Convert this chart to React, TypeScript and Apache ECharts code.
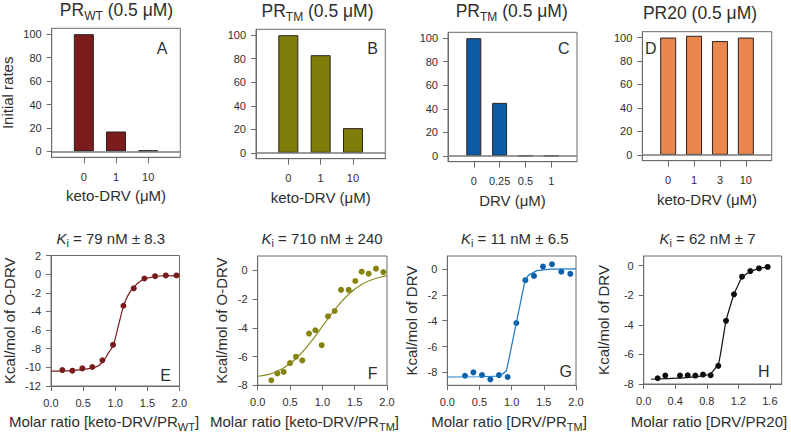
import { useEffect, useRef } from 'react';
import * as echarts from 'echarts';

const FONT = '"Liberation Sans", Arial, Helvetica, sans-serif';
const INK = '#2e2e2e';
const FRAME = '#6b6b6b';

// ---------- top row: initial rates ----------
const concA = ['0', '1', '10'];
const rateA = [100, 17, 1];
const concB = ['0', '1', '10'];
const rateB = [100, 83, 21];
const concC = ['0', '0.25', '0.5', '1'];
const rateC = [100, 45, 0, 0];
const concD = ['0', '1', '3', '10'];
const rateD = [100, 101.5, 97, 100];
const rateTicks = [0, 20, 40, 60, 80, 100];

// ---------- bottom row: ITC ----------
const ratioE = [0.177, 0.333, 0.488, 0.644, 0.8, 0.966, 1.127, 1.288, 1.454, 1.62, 1.787, 1.953];
const heatE = [-10.29, -10.36, -10.11, -9.96, -9.24, -7.58, -3.39, -1.52, -0.47, -0.22, -0.14, -0.14];
const fitXE = [0, 0.3, 0.5, 0.7, 0.8, 0.9, 0.97, 1.05, 1.13, 1.2, 1.29, 1.4, 1.5, 1.7, 2.0];
const fitYE = [-10.4, -10.35, -10.22, -9.95, -9.45, -8.4, -7.6, -5.5, -3.4, -2.25, -1.4, -0.72, -0.42, -0.2, -0.15];

const ratioF = [0.211, 0.304, 0.402, 0.5, 0.593, 0.69, 0.794, 0.892, 0.99, 1.088, 1.19, 1.289, 1.407, 1.51, 1.608, 1.716, 1.83, 1.943];
const heatF = [-7.65, -7.17, -7.07, -6.45, -6.01, -6.27, -4.4, -4.17, -5.21, -3.2, -2.83, -1.36, -1.36, -0.74, -0.09, -0.23, 0.12, -0.12];
const fitXF = [0, 0.2, 0.4, 0.6, 0.8, 1.0, 1.2, 1.4, 1.6, 1.8, 2.0];
const fitYF = [-7.37, -7.2, -6.8, -6.1, -5.1, -3.9, -2.7, -1.7, -1.0, -0.6, -0.37];

const ratioG = [0.275, 0.405, 0.539, 0.669, 0.803, 0.938, 1.073, 1.213, 1.347, 1.487, 1.627, 1.772, 1.912];
const heatG = [-8.26, -8.0, -8.21, -8.54, -8.21, -8.36, -4.18, -0.87, -0.54, 0.18, 0.36, -0.21, -0.38];
const fitXG = [0, 0.5, 0.82, 0.92, 1.21, 1.26, 1.39, 1.6, 2.0];
const fitYG = [-8.36, -8.34, -8.28, -7.87, -0.85, -0.5, -0.13, -0.02, 0];

const ratioH = [0.177, 0.274, 0.46, 0.558, 0.655, 0.752, 0.849, 0.946, 1.044, 1.145, 1.247, 1.352, 1.462, 1.572];
const heatH = [-7.61, -7.43, -7.43, -7.41, -7.43, -7.36, -7.41, -6.77, -3.73, -1.94, -0.75, -0.37, -0.18, -0.09];
const fitXH = [0.093, 0.5, 0.75, 0.85, 0.95, 1.044, 1.145, 1.247, 1.352, 1.462, 1.572];
const fitYH = [-7.68, -7.58, -7.45, -7.3, -6.6, -3.73, -1.94, -0.8, -0.4, -0.2, -0.1];

const ratioTicks = [0, 0.5, 1, 1.5, 2];
const ratioTicksH = [0, 0.4, 0.8, 1.2, 1.6];
const heatTicksE = [-12, -10, -8, -6, -4, -2, 0, 2];
const heatTicks = [-8, -6, -4, -2, 0];

const titleRich = {
  m: { fontSize: 17.5, fontFamily: FONT, fill: INK, lineHeight: 20 },
  s: { fontSize: 12, fontFamily: FONT, fill: INK, lineHeight: 8, padding: [12, 0, 0, 0] },
};
const kiRich = {
  k: { fontSize: 15, fontStyle: 'italic', fontFamily: FONT, fill: INK, lineHeight: 21 },
  s: { fontSize: 11, fontFamily: FONT, fill: INK, lineHeight: 11, padding: [10, 0, 0, 0] },
  m: { fontSize: 15, fontFamily: FONT, fill: INK, lineHeight: 21 },
};
const nameRich = {
  m: { fontSize: 15, fontFamily: FONT, fill: INK, lineHeight: 23 },
  s: { fontSize: 11, fontFamily: FONT, fill: INK, lineHeight: 11, padding: [12, 0, 0, 0] },
};

const topPanels = [
  { cats: concA, vals: rateA, color: '#7b1c1c', box: [51.7, 28.3, 128.6, 129], barW: 20, xName: 'keto-DRV (μM)', yName: 'Initial rates', letter: 'A', lp: [162, 48], title: '{m|PR}{s|WT}{m| (0.5 μM)}', tp: [116.5, 10] },
  { cats: concB, vals: rateB, color: '#7f7d0c', box: [256, 29.3, 129.3, 129.4], barW: 20, xName: 'keto-DRV (μM)', yName: '', letter: 'B', lp: [372.7, 48], title: '{m|PR}{s|TM}{m| (0.5 μM)}', tp: [317.5, 10.5] },
  { cats: concC, vals: rateC, color: '#0d5ba3', box: [448, 32.3, 129, 129.4], barW: 15, xName: 'DRV (μM)', yName: '', letter: 'C', lp: [563.7, 48], title: '{m|PR}{s|TM}{m| (0.5 μM)}', tp: [511.7, 10.5] },
  { cats: concD, vals: rateD, color: '#e9874f', box: [642.3, 31.7, 129.4, 129], barW: 16, xName: 'keto-DRV (μM)', yName: '', letter: 'D', lp: [650.7, 48], title: '{m|PR20 (0.5 μM)}', tp: [700, 12.8] },
];

const bottomPanels = [
  { xs: ratioE, ys: heatE, fx: fitXE, fy: fitYE, dot: '#7a1a1a', line: '#7b1c1c', smooth: 0.35, box: [51, 255.5, 128.5, 130.5], xMax: 2, xTicks: ratioTicks, yMin: -12, yMax: 2, yTicks: heatTicksE, yName: 'Kcal/mol of O-DRV', yGap: 34.5, letter: 'E', lp: [165.7, 375.7], ki: '{k|K}{s|i}{m| = 79 nM ± 8.3}', kp: [110.8, 238], xName: '{m|Molar ratio [keto-DRV/PR}{s|WT}{m|]}', np: [104, 421] },
  { xs: ratioF, ys: heatF, fx: fitXF, fy: fitYF, dot: '#86830b', line: '#8c8a1e', smooth: 0.5, box: [257.7, 256, 129.3, 129.3], xMax: 2, xTicks: ratioTicks, yMin: -8, yMax: 1, yTicks: heatTicks, yName: 'Kcal/mol of O-DRV', yGap: 28.5, letter: 'F', lp: [372.7, 373.3], ki: '{k|K}{s|i}{m| = 710 nM ± 240}', kp: [322, 238], xName: '{m|Molar ratio [keto-DRV/PR}{s|TM}{m|]}', np: [304.5, 421] },
  { xs: ratioG, ys: heatG, fx: fitXG, fy: fitYG, dot: '#0a5fa8', line: '#1a78c8', smooth: false, box: [447.3, 256, 128.7, 129.3], xMax: 2, xTicks: ratioTicks, yMin: -9, yMax: 1, yTicks: heatTicks, yName: 'Kcal/mol of DRV', yGap: 28.5, letter: 'G', lp: [565.7, 371], ki: '{k|K}{s|i}{m| = 11 nM ± 6.5}', kp: [514.7, 238], xName: '{m|Molar ratio [DRV/PR}{s|TM}{m|]}', np: [509, 421] },
  { xs: ratioH, ys: heatH, fx: fitXH, fy: fitYH, dot: '#0d0d0d', line: '#111111', smooth: 0.15, box: [643.7, 256, 138, 128], xMax: 1.75, xTicks: ratioTicksH, yMin: -8, yMax: 0.65, yTicks: heatTicks, yName: 'Kcal/mol of DRV', yGap: 32.5, letter: 'H', lp: [763.7, 371.7], ki: '{k|K}{s|i}{m| = 62 nM ± 7}', kp: [707.5, 238], xName: '{m|Molar ratio [DRV/PR20]}', np: [709, 421] },
];

const labelStyle = { fontSize: 11, color: INK, fontFamily: FONT };
const nameStyle = { fontSize: 15, color: INK, fontFamily: FONT };

function buildOption() {
  const grid: any[] = [];
  const xAxis: any[] = [];
  const yAxis: any[] = [];
  const series: any[] = [];
  const elements: any[] = [];

  const addText = (x: number, y: number, text: string, rich?: any, size = 16) => {
    elements.push({
      type: 'text',
      x,
      y,
      style: { text, rich, align: 'center', verticalAlign: 'middle', fontSize: size, fontFamily: FONT, fill: INK },
    });
  };

  topPanels.forEach((p, i) => {
    const [left, top, width, height] = p.box;
    grid.push({ left, top, width, height, show: true, borderColor: FRAME, borderWidth: 1, backgroundColor: 'transparent', containLabel: false, outerBoundsMode: 'none' });
    const padded = ['', ...p.cats, ' '];
    xAxis.push({
      type: 'category', gridIndex: i, data: padded, boundaryGap: false,
      axisLine: { onZero: false, lineStyle: { color: FRAME } },
      axisTick: { length: 6, interval: (idx: number) => idx > 0 && idx < padded.length - 1, lineStyle: { color: FRAME } },
      axisLabel: { interval: 0, margin: 14, ...labelStyle },
      splitLine: { show: false },
      name: p.xName, nameLocation: 'middle', nameGap: 31, nameTextStyle: nameStyle,
    });
    yAxis.push({
      type: 'value', gridIndex: i, min: -5, max: 105,
      axisLine: { show: true, onZero: false, lineStyle: { color: FRAME } },
      axisTick: { show: true, length: 5, customValues: rateTicks, lineStyle: { color: FRAME } },
      axisLabel: { customValues: rateTicks, margin: 10, ...labelStyle },
      splitLine: { show: false },
      name: p.yName, nameLocation: 'middle', nameGap: 37, nameTextStyle: nameStyle,
    });
    series.push({
      type: 'bar', xAxisIndex: i, yAxisIndex: i,
      data: ['-', ...p.vals, '-'],
      barWidth: p.barW,
      itemStyle: { color: p.color, borderColor: '#2b2222', borderWidth: 1 },
      markLine: {
        silent: true, symbol: ['none', 'none'], label: { show: false },
        lineStyle: { color: '#7a7a7a', width: 1.5, type: 'solid' },
        data: [{ yAxis: 0 }],
      },
    });
    addText(p.tp[0], p.tp[1], p.title, titleRich, 17.5);
    addText(p.lp[0], p.lp[1], p.letter, undefined, 16);
  });

  bottomPanels.forEach((p, j) => {
    const i = j + 4;
    const [left, top, width, height] = p.box;
    grid.push({ left, top, width, height, show: true, borderColor: FRAME, borderWidth: 1, backgroundColor: 'transparent', containLabel: false, outerBoundsMode: 'none' });
    xAxis.push({
      type: 'value', gridIndex: i, min: 0, max: p.xMax,
      axisLine: { show: true, onZero: false, lineStyle: { color: FRAME } },
      axisTick: { show: true, length: 5, customValues: p.xTicks, lineStyle: { color: FRAME } },
      axisLabel: { customValues: p.xTicks, margin: 11, formatter: (v: number) => v.toFixed(1), ...labelStyle },
      splitLine: { show: false },
    });
    yAxis.push({
      type: 'value', gridIndex: i, min: p.yMin, max: p.yMax,
      axisLine: { show: true, onZero: false, lineStyle: { color: FRAME } },
      axisTick: { show: true, length: 5, customValues: p.yTicks, lineStyle: { color: FRAME } },
      axisLabel: { customValues: p.yTicks, margin: 10, ...labelStyle },
      splitLine: { show: false },
      name: p.yName, nameLocation: 'middle', nameGap: p.yGap, nameTextStyle: nameStyle,
    });
    series.push({
      type: 'line', xAxisIndex: i, yAxisIndex: i,
      data: p.fx.map((x, k) => [x, p.fy[k]]),
      showSymbol: false, symbol: 'none',
      smooth: p.smooth,
      lineStyle: { color: p.line, width: 1.2 },
    });
    series.push({
      type: 'scatter', xAxisIndex: i, yAxisIndex: i,
      data: p.xs.map((x, k) => [x, p.ys[k]]),
      symbolSize: 6,
      itemStyle: { color: p.dot, opacity: 1 },
    });
    addText(p.kp[0], p.kp[1], p.ki, kiRich, 15);
    addText(p.lp[0], p.lp[1], p.letter, undefined, 16);
    addText(p.np[0], p.np[1], p.xName, nameRich, 15);
  });

  return {
    animation: false,
    backgroundColor: '#ffffff',
    textStyle: { fontFamily: FONT },
    grid, xAxis, yAxis, series,
    graphic: { elements },
  };
}

export default function App() {
  const ref = useRef<HTMLDivElement>(null);
  useEffect(() => {
    if (!ref.current) return;
    const chart = echarts.init(ref.current, undefined, { renderer: 'svg' });
    chart.setOption(buildOption() as any);
    return () => chart.dispose();
  }, []);
  return (
    <div
      ref={ref}
      style={{ position: 'fixed', left: 0, top: 0, width: 791, height: 434, background: '#fff' }}
    />
  );
}
